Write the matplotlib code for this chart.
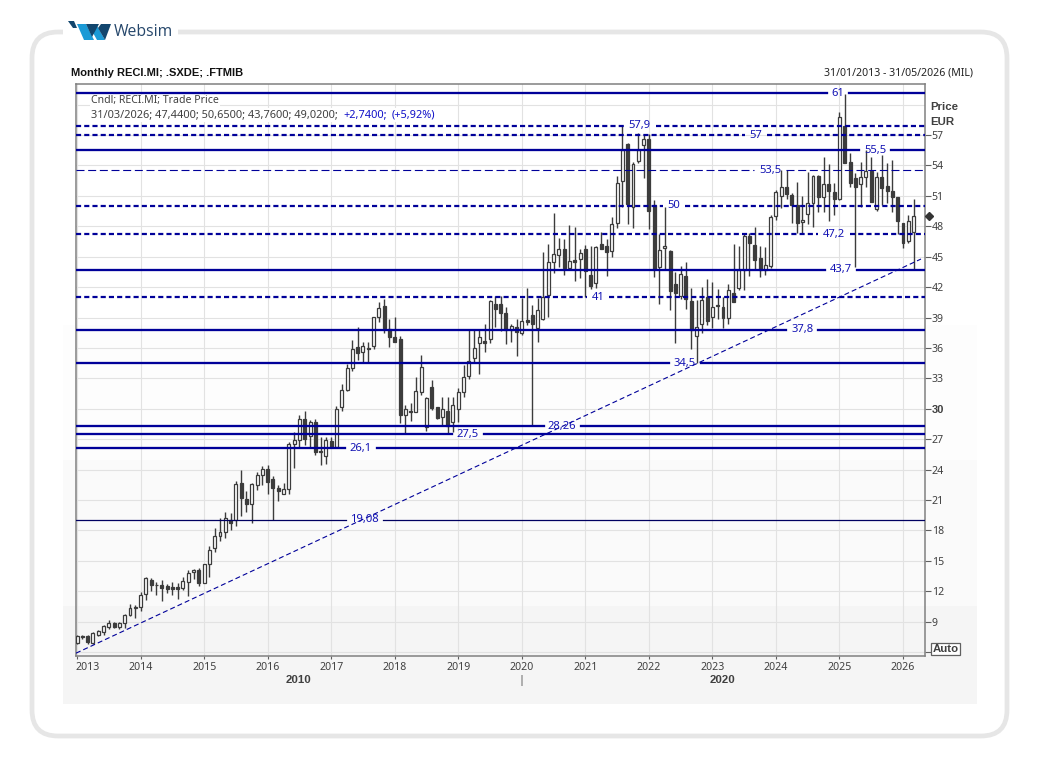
import matplotlib
matplotlib.use("Agg")
import matplotlib.pyplot as plt
from matplotlib.patches import FancyBboxPatch, Rectangle, Polygon
from matplotlib.transforms import ScaledTranslation

# monthly candles, jan 2013 to mar 2026
open_ = [
    6.9, 7.6, 7.6, 6.95, 7.7, 8.0, 8.5, 8.83, 8.5, 8.83, 9.62, 10.37,
    10.5, 11.75, 13.07, 12.64, 12.58, 12.51, 12.38, 12.38, 12.35, 12.94, 13.86, 14.06,
    12.84, 14.65, 16.23, 17.41, 17.81, 19.03, 19.01, 22.72, 21.08, 20.62, 22.53, 23.51,
    24.11, 23.12, 22.23, 21.64, 22.13, 26.54, 26.97, 29.04, 27.33, 28.65, 25.8, 25.37,
    26.82, 26.19, 30.2, 31.88, 33.99, 36.06, 35.57, 35.96, 36.23, 39.09, 40.14, 37.84,
    37.05, 36.85, 29.35, 29.81, 29.71, 31.7, 28.17, 32.11, 30.14, 29.22, 29.74, 28.72,
    29.94, 31.62, 33.26, 34.98, 36.46, 36.65, 36.92, 40.31, 40.31, 39.42, 37.77, 38.04,
    37.51, 38.76, 39.24, 37.92, 38.84, 41.21, 44.5, 45.19, 45.72, 43.91, 44.63, 44.8,
    45.72, 43.18, 42.39, 46.21, 46.05, 45.59, 48.35, 52.5, 56.15, 49.86, 54.47, 55.98,
    56.57, 50.09, 43.97, 45.82, 45.55, 42.26, 41.14, 43.09, 40.62, 37.2, 38.38, 40.98,
    39.01, 40.19, 39.99, 39.0, 41.37, 41.87, 43.68, 47.03, 46.14, 44.83, 43.68, 44.11,
    48.97, 51.01, 51.84, 51.05, 50.09, 48.41, 49.17, 50.32, 52.99, 50.91, 52.17, 51.41,
    50.65, 57.92, 54.37, 52.79, 52.2, 52.89, 53.48, 49.73, 52.82, 52.0, 51.44, 50.85,
    48.28, 46.54, 47.44,
]
high = [
    7.7, 7.7, 7.7, 7.95, 8.17, 8.63, 9.22, 8.96, 8.96, 9.75, 10.7, 10.64,
    11.89, 13.4, 13.27, 12.9, 13.1, 12.7, 12.87, 12.84, 13.37, 14.06, 14.19, 14.26,
    14.65, 16.43, 18.2, 19.19, 19.78, 19.68, 22.86, 24.01, 21.87, 22.69, 23.81, 24.34,
    24.5, 23.41, 22.53, 22.72, 26.77, 27.76, 29.34, 29.76, 28.94, 29.04, 27.18, 27.18,
    27.24, 30.24, 32.41, 34.42, 36.75, 38.04, 36.55, 36.55, 39.02, 40.5, 40.8, 38.82,
    39.02, 37.15, 30.37, 30.53, 33.1, 35.27, 31.13, 32.84, 30.2, 31.19, 31.13, 31.19,
    32.01, 34.32, 37.84, 37.77, 37.84, 38.36, 40.73, 41.13, 41.13, 40.07, 38.33, 38.82,
    40.9, 41.88, 40.22, 40.95, 45.42, 46.21, 49.27, 46.8, 46.7, 48.12, 47.95, 45.72,
    46.15, 46.1, 46.05, 47.43, 46.7, 48.88, 52.96, 57.99, 56.25, 54.37, 57.23, 57.1,
    57.1, 50.59, 47.23, 49.86, 45.65, 43.51, 44.07, 44.5, 41.93, 40.72, 42.03, 42.76,
    42.53, 41.77, 41.05, 42.3, 46.21, 46.08, 47.3, 47.3, 47.95, 46.08, 45.98, 49.11,
    51.57, 53.55, 53.5, 51.24, 52.36, 51.01, 53.35, 53.05, 53.05, 54.8, 54.14, 52.23,
    59.24, 61.05, 55.26, 53.22, 54.3, 55.52, 54.8, 53.38, 55.03, 54.27, 54.53, 50.85,
    48.28, 49.11, 50.65,
]
low = [
    6.8, 7.25, 6.8, 6.85, 7.58, 7.74, 8.3, 8.37, 8.3, 8.37, 9.52, 9.39,
    10.04, 11.16, 12.05, 11.62, 11.06, 11.85, 11.66, 11.23, 12.12, 11.52, 13.24, 12.54,
    12.78, 13.43, 15.83, 16.99, 17.28, 18.07, 18.41, 19.4, 19.8, 18.74, 22.0, 22.49,
    21.61, 19.07, 20.91, 21.61, 21.61, 24.17, 26.21, 26.41, 26.21, 25.45, 24.48, 24.55,
    26.1, 26.15, 29.82, 31.78, 33.73, 34.81, 34.61, 34.61, 35.86, 38.53, 37.44, 36.13,
    36.6, 28.56, 27.57, 28.79, 29.65, 31.39, 27.84, 29.88, 28.95, 28.3, 27.57, 27.74,
    28.72, 31.13, 32.9, 34.65, 33.4, 35.63, 36.52, 38.1, 37.71, 36.36, 36.55, 35.24,
    37.28, 38.3, 28.3, 36.54, 38.74, 39.01, 43.41, 44.01, 43.18, 43.88, 42.63, 42.92,
    41.05, 41.84, 41.93, 45.72, 43.12, 44.99, 47.86, 49.93, 48.22, 47.86, 54.27, 52.79,
    47.76, 43.02, 40.32, 43.74, 39.73, 36.51, 40.78, 39.83, 35.91, 34.5, 37.49, 38.25,
    37.92, 38.84, 37.92, 38.35, 40.5, 41.7, 41.7, 43.08, 43.68, 43.02, 43.18, 43.84,
    48.61, 49.83, 50.65, 48.35, 47.3, 47.36, 48.22, 47.95, 49.37, 49.37, 48.55, 49.14,
    50.6, 54.2, 51.9, 44.01, 49.93, 51.9, 50.4, 49.53, 50.09, 50.26, 49.43, 47.23,
    45.88, 46.31, 43.76,
]
close = [
    7.6, 7.5, 7.0, 7.85, 8.1, 8.53, 8.83, 8.5, 8.86, 9.65, 10.4, 10.5,
    11.59, 13.27, 12.64, 12.58, 12.35, 12.25, 12.25, 12.25, 12.97, 13.76, 14.06, 12.84,
    14.65, 16.03, 17.41, 17.81, 19.19, 18.76, 22.62, 21.21, 20.62, 22.62, 23.51, 24.11,
    22.79, 22.2, 21.9, 22.13, 26.57, 26.97, 29.04, 27.0, 28.65, 25.75, 25.7, 26.92,
    26.19, 29.94, 31.82, 33.99, 35.86, 35.53, 36.16, 35.86, 39.02, 39.91, 37.94, 37.05,
    36.62, 29.38, 29.94, 29.65, 31.72, 34.09, 31.09, 30.07, 29.05, 29.94, 28.3, 30.34,
    31.62, 33.1, 34.68, 35.96, 37.05, 36.52, 40.63, 39.88, 39.42, 37.74, 38.17, 37.54,
    38.63, 38.59, 38.41, 39.73, 40.98, 44.43, 45.22, 45.72, 43.91, 44.57, 44.5, 45.32,
    43.61, 42.13, 45.95, 45.78, 45.49, 48.19, 52.23, 55.52, 50.19, 54.11, 55.52, 56.57,
    49.53, 43.81, 45.62, 46.01, 41.61, 41.44, 43.25, 40.78, 37.76, 38.02, 40.68, 38.68,
    40.06, 40.09, 38.97, 41.74, 40.55, 43.68, 47.03, 46.37, 44.66, 43.68, 44.14, 48.88,
    51.34, 51.84, 51.21, 50.09, 48.35, 48.64, 50.32, 52.99, 50.85, 52.13, 51.51, 50.65,
    58.75, 54.27, 52.3, 51.84, 52.82, 53.42, 50.42, 52.82, 51.74, 51.51, 50.91, 48.55,
    46.31, 48.48, 49.02,
]

years = ["2013", "2014", "2015", "2016", "2017", "2018", "2019",
         "2020", "2021", "2022", "2023", "2024", "2025", "2026"]
price_ticks = [6, 9, 12, 15, 18, 21, 24, 27, 30, 33, 36, 39, 42, 45, 48, 51, 54, 57]
top_grid = 60

solid_levels = [61.1, 55.5, 43.7, 37.8, 34.5, 28.26, 27.5, 26.1]
dashed_levels = [57.9, 57.0, 50.0, 47.2, 41.0]
thin_dashed_levels = [53.5]
thin_solid_levels = [19.08]
trend_months = [-0.2, 159.4]
trend_prices = [5.9, 44.77]

level_labels = ["61", "57,9", "57", "55,5", "53,5", "50", "47,2", "43,7",
                "41", "37,8", "34,5", "28,26", "27,5", "26,1", "19,08"]
label_months = [143.7, 106.3, 128.2, 150.7, 130.9, 112.7, 143, 144.3,
                98.4, 137, 114.8, 91.6, 73.8, 53.6, 54.2]
label_prices = [61.1, 57.9, 57.0, 55.5, 53.5, 50.0, 47.2, 43.7,
                41.0, 37.8, 34.5, 28.26, 27.5, 26.1, 19.08]

W, H = 1040, 767
NAVY = "#000099"
BLUE = "#1414b4"
CANDLE = "#3c3c3c"
TEXT = "#404040"
FONT = "Noto Sans"
BOLD = "Liberation Sans"
XMIN, XMAX = -0.2, 160.06
PX_PER_MONTH = 5.295


def fx(x):
    return x / W


def fy(y):
    return 1 - y / H


def draw_level(ax, price, **style):
    # line with a gap where its label sits
    gap_start = XMIN
    for m, p, t in zip(label_months, label_prices, level_labels):
        if p == price:
            half = (12 + 5 * len(t)) / 2 / PX_PER_MONTH
            ax.plot([gap_start, m - half], [price, price], zorder=4, **style)
            gap_start = m + half
    ax.plot([gap_start, XMAX], [price, price], zorder=4, **style)


def main():
    plt.rcParams["font.family"] = FONT
    fig = plt.figure(figsize=(10.4, 7.67), dpi=100, facecolor="white")

    # page background in pixel coordinates
    bg = fig.add_axes([0, 0, 1, 1], zorder=-1)
    bg.set_xlim(0, W)
    bg.set_ylim(H, 0)
    bg.axis("off")
    bg.add_patch(FancyBboxPatch((32, 32), 975, 704, boxstyle="round,pad=0,rounding_size=26",
                                fc="white", ec="#e6e6e6", lw=3.4))
    bg.add_patch(Rectangle((63, 20), 115, 20, fc="white", ec="none"))
    for y0, y1, col in [(60, 325, "#ffffff"), (325, 460, "#fdfdfd"),
                        (460, 606, "#fafafa"), (606, 704, "#f5f5f5")]:
        bg.add_patch(Rectangle((63, y0), 914, y1 - y0, fc=col, ec="none"))

    # logo
    bg.add_patch(Polygon([(68, 21), (74, 21), (77, 28), (73, 28)], fc="#12466e", ec="none"))
    bg.add_patch(Polygon([(77, 24), (86, 24), (94, 40), (84, 40)], fc="#1b9ad6", ec="none"))
    bg.add_patch(Polygon([(92, 31), (96, 24), (105, 40), (97, 40)], fc="#1b9ad6", ec="none"))
    bg.add_patch(Polygon([(86, 24), (99, 24), (92, 37)], fc="#12466e", ec="none"))
    bg.add_patch(Polygon([(105, 40), (98, 28), (101, 24), (111, 24), (105, 40)], fc="#12466e", ec="none"))
    fig.text(fx(114), fy(32), "Websim", fontsize=11.3, color="#26476b",
             family="Open Sans", va="center", ha="left")

    ax = fig.add_axes([fx(76), fy(655.5), (924.5 - 76) / W, (655.5 - 84) / H])
    ax.patch.set_alpha(0)
    ax.set_xlim(XMIN, XMAX)
    ax.set_ylim(5.67, 62.03)

    month_ticks = [12 * i for i in range(len(years))]
    ax.set_xticks(month_ticks)
    ax.set_xticklabels(years)
    ax.yaxis.tick_right()
    ax.set_yticks(price_ticks)
    ax.set_yticklabels([""] + [str(p) for p in price_ticks[1:]])
    ax.grid(True, color="#e2e2e2", lw=0.8)
    ax.set_axisbelow(True)
    ax.axhline(top_grid, color="#e2e2e2", lw=0.8, zorder=1)
    ax.tick_params(axis="x", length=2.5, width=0.8, color="#606060", labelsize=7.6,
                   labelcolor=TEXT, pad=2.5)
    ax.tick_params(axis="y", length=4, width=0.8, color="#606060", labelsize=7.6,
                   labelcolor=TEXT, pad=1.2)
    first = ax.get_xticklabels()[0]
    first.set_ha("left")
    first.set_transform(first.get_transform() + ScaledTranslation(-2 / 100, 0, fig.dpi_scale_trans))
    for lab in ax.get_yticklabels():
        if lab.get_text() == "30":
            lab.set_fontweight("bold")
            lab.set_family(BOLD)
            lab.set_fontsize(8)
    for s in ax.spines.values():
        s.set_color("#808080")
        s.set_linewidth(1.1)

    # candles
    for i in range(len(open_)):
        ax.vlines(i, low[i], high[i], color=CANDLE, lw=1.0, zorder=2)
        top = max(open_[i], close[i])
        bot = min(open_[i], close[i])
        face = "white" if close[i] >= open_[i] else CANDLE
        ax.bar(i, top - bot, bottom=bot, width=0.56, fc=face, ec=CANDLE, lw=0.9, zorder=3)

    # support and resistance levels
    for v in solid_levels:
        draw_level(ax, v, color=NAVY, lw=1.65)
    for v in dashed_levels:
        draw_level(ax, v, color=NAVY, lw=1.6, ls=(0, (2.3, 1.4)))
    for v in thin_dashed_levels:
        draw_level(ax, v, color=NAVY, lw=0.8, ls=(0, (7.2, 3.3)))
    for v in thin_solid_levels:
        draw_level(ax, v, color="#000060", lw=0.9)
    ax.plot(trend_months, trend_prices, color=NAVY, lw=0.8, ls=(0, (4.5, 2.7)), zorder=4)

    for m, p, t in zip(label_months, label_prices, level_labels):
        ax.text(m, p, t, color=BLUE, fontsize=8.1, ha="center", va="center", zorder=5)

    # last close marker on the price scale
    ax.plot([160.9], [close[-1]], marker="D", ms=4.3, color="#333333", clip_on=False, zorder=6)

    # header texts
    fig.text(fx(71), fy(73), "Monthly RECI.MI; .SXDE; .FTMIB", fontsize=8.05, fontweight="bold",
             family=BOLD, color="#111111", va="center", ha="left")
    fig.text(fx(973), fy(73), "31/01/2013 - 31/05/2026 (MIL)", fontsize=7.6, color="#222222",
             va="center", ha="right")
    fig.patches.append(Rectangle((fx(90), fy(108)), 130 / W, 13.5 / H, transform=fig.transFigure,
                                 fc="white", ec="none", zorder=2))
    fig.patches.append(Rectangle((fx(90), fy(122)), 351 / W, 14 / H, transform=fig.transFigure,
                                 fc="white", ec="none", zorder=2))
    fig.text(fx(91), fy(101), "Cndl; RECI.MI; Trade Price", fontsize=7.6, color=TEXT,
             va="center", ha="left", zorder=3)
    fig.text(fx(91), fy(115), "31/03/2026; 47,4400; 50,6500; 43,7600; 49,0200;", fontsize=7.9,
             color=TEXT, va="center", ha="left", zorder=3)
    fig.text(fx(343), fy(115), "+2,7400;", fontsize=7.9, color="#1010c8", va="center", ha="left", zorder=3)
    fig.text(fx(392), fy(115), "(+5,92%)", fontsize=7.9, color="#1010c8", va="center", ha="left", zorder=3)

    # scale captions
    fig.text(fx(930), fy(107), "Price", fontsize=8.2, fontweight="bold", family=BOLD, color=TEXT, va="center", ha="left")
    fig.text(fx(930), fy(122), "EUR", fontsize=8.2, fontweight="bold", family=BOLD, color=TEXT, va="center", ha="left")
    fig.text(fx(298), fy(680), "2010", fontsize=8.2, fontweight="bold", family=BOLD, color=TEXT, va="center", ha="center")
    fig.text(fx(723), fy(680), "2020", fontsize=8.2, fontweight="bold", family=BOLD, color=TEXT, va="center", ha="center")
    fig.text(fx(521), fy(680), "|", fontsize=8, color=TEXT, va="center", ha="center")
    fig.text(fx(945.5), fy(649), "Auto", fontsize=8.2, fontweight="bold", family=BOLD, color=TEXT, va="center", ha="center",
             bbox=dict(fc="white", ec="#606060", lw=0.9, boxstyle="square,pad=0.12"))

    fig.savefig("out.png", dpi=100)
    plt.close(fig)


if __name__ == "__main__":
    main()
